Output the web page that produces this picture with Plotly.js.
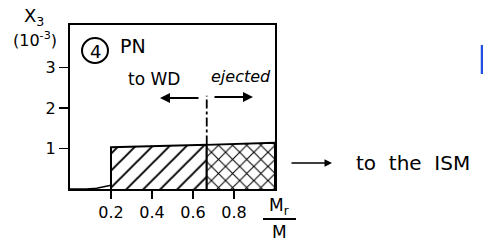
<!DOCTYPE html>
<html>
<head>
<meta charset="utf-8">
<script src="https://cdn.plot.ly/plotly-3.0.1.min.js"></script>
<style>html,body{margin:0;padding:0;background:#fff;}#chart{width:483px;height:241px;}</style>
</head>
<body>
<div id="chart"></div>
<script>
// ---- data ----
const hatchX = [0.2, 0.2, 0.667, 0.667];      // part going to the white dwarf
const hatchY = [0, 1.03, 1.09, 0];
const crossX = [0.667, 0.667, 1.0, 1.0];      // ejected part
const crossY = [0, 1.09, 1.14, 0];
const tailX = [0, 0.08, 0.13, 0.17, 0.2];      // small core tail
const tailY = [0, 0.0, 0.02, 0.05, 0.09];
const dividerX = [0.667, 0.667];
const dividerY = [1.1, 2.3];
const xTickVals = [0.2, 0.4, 0.6, 0.8];
const xTickText = ['0.2', '0.4', '0.6', '0.8'];
const yTickVals = [1, 2, 3];
const yTickText = ['1', '2', '3'];

// ---- layout helpers (pixel -> paper) ----
const L = 70, R = 275, T = 25, B = 189, W = 483, H = 241;
const px = x => (x - L) / (R - L);
const py = y => (B - y) / (B - T);
const FONT = 'DejaVu Sans';

const traces = [
  {x: tailX, y: tailY, mode: 'lines', line: {color: 'black', width: 1.5}, hoverinfo: 'skip'},
  {x: hatchX, y: hatchY, mode: 'lines', fill: 'toself', fillcolor: 'white',
   fillpattern: {shape: '/', size: 12, solidity: 0.16, fgcolor: 'black', bgcolor: 'white'},
   line: {color: 'black', width: 2}, hoverinfo: 'skip'},
  {x: crossX, y: crossY, mode: 'lines', fill: 'toself', fillcolor: 'white',
   fillpattern: {shape: 'x', size: 10, solidity: 0.2, fgcolor: 'black', bgcolor: 'white'},
   line: {color: 'black', width: 2}, hoverinfo: 'skip'},
  {x: dividerX, y: dividerY, mode: 'lines', line: {color: 'black', width: 1.8, dash: 'dashdot'}, hoverinfo: 'skip'}
];

function txt(x, y, text, size) {
  return {xref: 'paper', yref: 'paper', x: px(x), y: py(y), text: text, showarrow: false,
          xanchor: 'center', yanchor: 'middle', font: {size: size, family: FONT, color: 'black'}};
}
function arrow(x, y, ax, w) {
  return {xref: 'paper', yref: 'paper', x: px(x), y: py(y), text: '', showarrow: true, ax: ax, ay: 0,
          arrowhead: 2, arrowsize: 1, arrowwidth: w, arrowcolor: 'black'};
}

const layout = {
  width: W, height: H,
  margin: {l: L, r: W - R, t: T, b: H - B, pad: 0},
  paper_bgcolor: 'white', plot_bgcolor: 'white',
  showlegend: false,
  font: {family: FONT, color: 'black', size: 16},
  xaxis: {range: [0, 1], showline: true, mirror: true, linecolor: 'black', linewidth: 2,
          ticks: 'outside', ticklen: 8, tickwidth: 1.5, tickcolor: 'black',
          tickvals: xTickVals, ticktext: xTickText, tickfont: {size: 16, family: FONT},
          showgrid: false, zeroline: false, fixedrange: true},
  yaxis: {range: [0, 4.05], showline: true, mirror: true, linecolor: 'black', linewidth: 2,
          ticks: 'outside', ticklen: 9, tickwidth: 1.5, tickcolor: 'black',
          tickvals: yTickVals, ticktext: yTickText, tickfont: {size: 16, family: FONT},
          showgrid: false, zeroline: false, fixedrange: true},
  shapes: [
    {type: 'circle', xref: 'paper', yref: 'paper', x0: px(82), x1: px(108), y0: py(63), y1: py(38),
     line: {color: 'black', width: 2}},
    {type: 'line', xref: 'paper', yref: 'paper', x0: px(263), x1: px(296), y0: py(219), y1: py(219),
     line: {color: 'black', width: 2}},
    {type: 'line', xref: 'paper', yref: 'paper', x0: px(482), x1: px(482), y0: py(45), y1: py(74),
     line: {color: '#1f4fe0', width: 2.5}}
  ],
  annotations: [
    txt(95, 51, '4', 18),
    txt(133, 46, 'PN', 19),
    txt(154, 79, 'to WD', 17),
    txt(241, 76, '<i>ejected</i>', 16),
    arrow(160, 98, 40, 2),
    arrow(253, 97, -40, 2),
    arrow(332, 163, -42, 1.5),
    txt(413, 163, 'to  the  ISM', 20),
    txt(34, 17, 'X<sub>3</sub>', 18),
    txt(35, 40, '(10<sup>-3</sup>)', 16),
    txt(279, 206, 'M<sub>r</sub>', 17),
    txt(279, 232, 'M', 17)
  ]
};

Plotly.newPlot('chart', traces, layout, {staticPlot: true, displayModeBar: false});
</script>
</body>
</html>
